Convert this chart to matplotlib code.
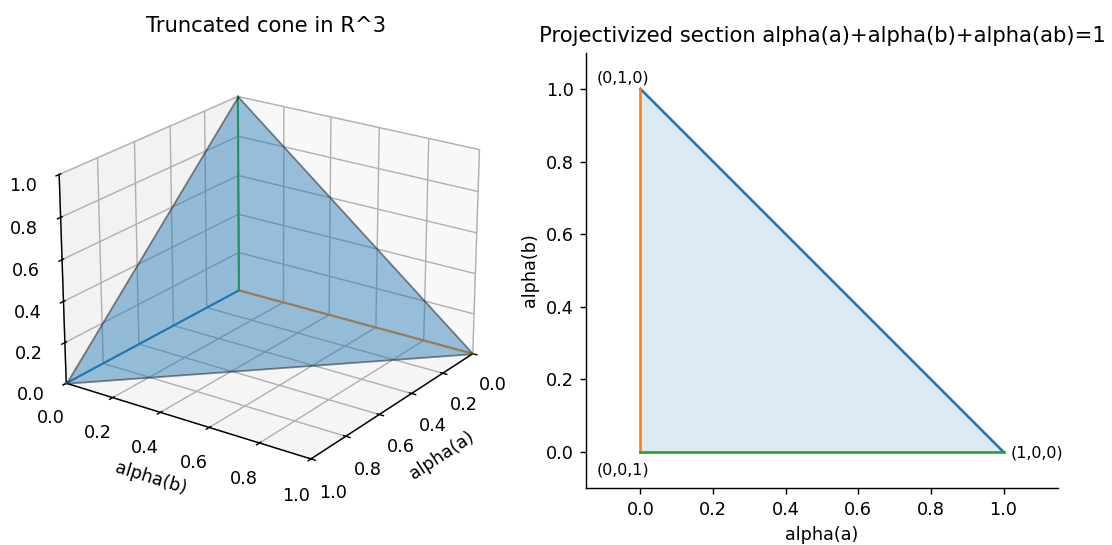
import matplotlib
matplotlib.use("Agg")
import matplotlib.pyplot as plt
import numpy as np
from mpl_toolkits.mplot3d.art3d import Poly3DCollection

# data
vertices_a = [1.0, 0.0, 0.0]   # alpha(a)
vertices_b = [0.0, 1.0, 0.0]   # alpha(b)
vertices_ab = [0.0, 0.0, 1.0]  # alpha(ab)
tri2d_x = [1.0, 0.0, 0.0]
tri2d_y = [0.0, 1.0, 0.0]
labels2d = ["(1,0,0)", "(0,1,0)", "(0,0,1)"]

DPI = 127
fig = plt.figure(figsize=(1112 / DPI, 545 / DPI), dpi=DPI)

ax3 = fig.add_axes([0.0117, 0.076, 0.455, 0.846], projection='3d')
for i in range(3):
    ax3.plot([0, vertices_a[i]], [0, vertices_b[i]], [0, vertices_ab[i]], color=f"C{i}", lw=1.2)
verts = [list(zip(vertices_a, vertices_b, vertices_ab))]
poly = Poly3DCollection(verts, facecolor="C0", alpha=0.45, edgecolor="k", linewidth=1)
ax3.add_collection3d(poly)
ax3.set_xlim(0, 1); ax3.set_ylim(0, 1); ax3.set_zlim(0, 1)
ax3.set_xlabel("alpha(a)")
ax3.set_ylabel("alpha(b)")
ax3.view_init(elev=22, azim=35)
ax3.set_title("Truncated cone in R^3")

ax2 = fig.add_axes([586 / 1112, 1 - 489 / 545, 472 / 1112, 437 / 545])
ax2.fill(tri2d_x, tri2d_y, color="C0", alpha=0.15, lw=0)
ax2.plot([tri2d_x[0], tri2d_x[1]], [tri2d_y[0], tri2d_y[1]], color="C0")
ax2.plot([tri2d_x[1], tri2d_x[2]], [tri2d_y[1], tri2d_y[2]], color="C1")
ax2.plot([tri2d_x[2], tri2d_x[0]], [tri2d_y[2], tri2d_y[0]], color="C2")
ax2.annotate(labels2d[0], (tri2d_x[0], tri2d_y[0]), xytext=(4, -0.5), textcoords="offset points",
             fontsize=9, ha="left", va="center")
ax2.annotate(labels2d[1], (tri2d_x[1], tri2d_y[1]), xytext=(-25, 6), textcoords="offset points",
             fontsize=9, ha="left", va="center")
ax2.annotate(labels2d[2], (tri2d_x[2], tri2d_y[2]), xytext=(-25, -10), textcoords="offset points",
             fontsize=9, ha="left", va="center")
ax2.set_xlim(-0.15, 1.15)
ax2.set_ylim(-0.1, 1.1)
ax2.set_aspect("equal")
ax2.spines["top"].set_visible(False)
ax2.spines["right"].set_visible(False)
ax2.set_xlabel("alpha(a)")
ax2.set_ylabel("alpha(b)")
ax2.set_title("Projectivized section alpha(a)+alpha(b)+alpha(ab)=1")

fig.savefig("out.png", dpi=DPI)
